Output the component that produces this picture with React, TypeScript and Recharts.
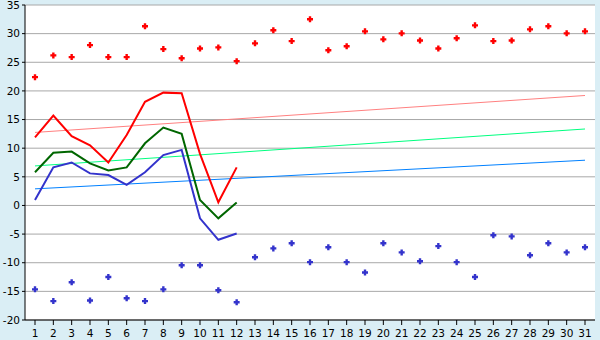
import { ComposedChart, Line, XAxis, YAxis, CartesianGrid } from 'recharts';

const days = [1, 2, 3, 4, 5, 6, 7, 8, 9, 10, 11, 12, 13, 14, 15, 16, 17, 18, 19, 20, 21, 22, 23, 24, 25, 26, 27, 28, 29, 30, 31];

// scatter: highest and lowest per day
const maxPoints = [22.4, 26.2, 25.9, 28.0, 25.9, 25.9, 31.3, 27.3, 25.7, 27.4, 27.6, 25.2, 28.3, 30.6, 28.7, 32.5, 27.1, 27.8, 30.4, 29.0, 30.05, 28.8, 27.4, 29.2, 31.45, 28.7, 28.8, 30.75, 31.3, 30.05, 30.4];
const minPoints = [-14.65, -16.7, -13.4, -16.6, -12.5, -16.2, -16.7, -14.65, -10.45, -10.45, -14.8, -16.9, -9.05, -7.5, -6.6, -9.9, -7.3, -9.9, -11.7, -6.6, -8.2, -9.75, -7.1, -9.9, -12.5, -5.2, -5.4, -8.7, -6.6, -8.2, -7.3];

// measured lines, first 12 days only
const highLine = [11.9, 15.7, 12.1, 10.5, 7.5, 12.3, 18.1, 19.7, 19.6, 9.0, 0.55, 6.65];
const meanLine = [5.8, 9.2, 9.4, 7.35, 6.1, 6.65, 10.85, 13.6, 12.5, 0.95, -2.25, 0.5];
const lowLine = [0.95, 6.65, 7.5, 5.6, 5.3, 3.6, 5.8, 8.8, 9.7, -2.25, -6.0, -4.9];

// trend lines: start and end values
const highTrend = [12.75, 19.2];
const meanTrend = [6.9, 13.35];
const lowTrend = [2.9, 7.9];

const yTicks = [-20, -15, -10, -5, 0, 5, 10, 15, 20, 25, 30, 35];

const data = days.map((d, i) => ({
  day: d,
  max: maxPoints[i],
  min: minPoints[i],
  high: i < highLine.length ? highLine[i] : null,
  mean: i < meanLine.length ? meanLine[i] : null,
  low: i < lowLine.length ? lowLine[i] : null,
  highT: i === 0 ? highTrend[0] : i === days.length - 1 ? highTrend[1] : null,
  meanT: i === 0 ? meanTrend[0] : i === days.length - 1 ? meanTrend[1] : null,
  lowT: i === 0 ? lowTrend[0] : i === days.length - 1 ? lowTrend[1] : null,
}));

const cross = (color: string) => (props: any) => {
  const { cx, cy, key } = props;
  if (cx == null || cy == null) return <g key={key} />;
  const a = 1.2, b = 3;
  const pts = [
    [cx - a, cy - b], [cx + a, cy - b], [cx + a, cy - a], [cx + b, cy - a],
    [cx + b, cy + a], [cx + a, cy + a], [cx + a, cy + b], [cx - a, cy + b],
    [cx - a, cy + a], [cx - b, cy + a], [cx - b, cy - a], [cx - a, cy - a],
  ].map(p => p.join(',')).join(' ');
  return <polygon key={key} points={pts} fill={color} />;
};

const tickStyle = { fontFamily: 'DejaVu Sans', fontSize: 10.5, fill: '#000' };

export default function App() {
  return (
    <div style={{ position: 'absolute', left: 0, top: 0, width: 600, height: 340, background: '#DAEEF5' }}>
      <ComposedChart width={600} height={340} data={data} margin={{ top: 5, right: 5, left: 0, bottom: 0 }}>
        <CartesianGrid vertical={false} stroke="#A8A8A8" fill="#FFFFFF" />
        <XAxis
          dataKey="day"
          interval={0}
          height={20}
          padding={{ left: 10, right: 10 }}
          tickSize={5}
          tickMargin={5}
          stroke="#000"
          tick={tickStyle}
        />
        <YAxis
          domain={[-20, 35]}
          ticks={yTicks}
          width={25}
          tickSize={3}
          tickMargin={2}
          stroke="#000"
          tick={tickStyle}
          allowDataOverflow
        />
        <YAxis yAxisId="r" orientation="right" width={0} tick={false} tickLine={false} stroke="#A8A8A8" />
        <Line dataKey="highT" stroke="#FF8080" strokeWidth={1} dot={false} connectNulls isAnimationActive={false} />
        <Line dataKey="meanT" stroke="#00FF80" strokeWidth={1} dot={false} connectNulls isAnimationActive={false} />
        <Line dataKey="lowT" stroke="#0080FF" strokeWidth={1} dot={false} connectNulls isAnimationActive={false} />
        <Line dataKey="high" stroke="#FF0000" strokeWidth={2} dot={false} isAnimationActive={false} />
        <Line dataKey="mean" stroke="#006600" strokeWidth={2} dot={false} isAnimationActive={false} />
        <Line dataKey="low" stroke="#3333CC" strokeWidth={2} dot={false} isAnimationActive={false} />
        <Line dataKey="max" stroke="none" dot={cross('#FF0000')} activeDot={false} isAnimationActive={false} />
        <Line dataKey="min" stroke="none" dot={cross('#3333CC')} activeDot={false} isAnimationActive={false} />
      </ComposedChart>
    </div>
  );
}
